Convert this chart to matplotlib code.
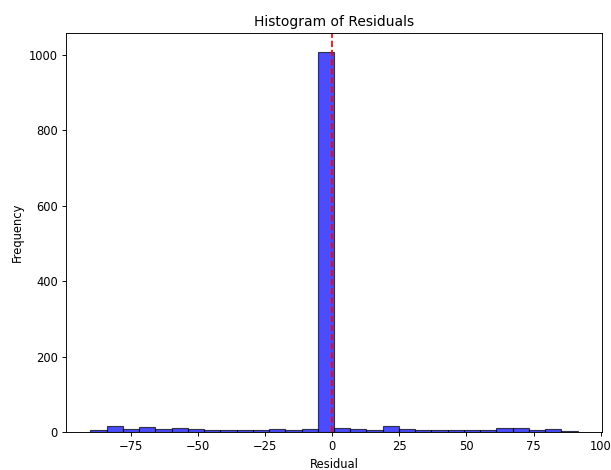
import numpy as np
import matplotlib
matplotlib.use("Agg")
import matplotlib.pyplot as plt

# Residual histogram: 30 equal-width bins spanning the residual range
residual_min = -90.1
residual_max = 91.4
bin_counts = [4, 17, 9, 13, 7, 11, 9, 6, 6, 6, 6, 9, 4, 7, 1008,
              11, 9, 4, 17, 9, 6, 6, 6, 6, 6, 11, 11, 4, 7, 3]

edges = np.linspace(residual_min, residual_max, len(bin_counts) + 1)
centers = (edges[:-1] + edges[1:]) / 2

scale = 0.83
plt.rcParams.update({
    "font.size": 10 * scale,
    "axes.titlesize": 12 * scale,
    "axes.labelsize": 10 * scale,
    "xtick.labelsize": 10 * scale,
    "ytick.labelsize": 10 * scale,
    "axes.linewidth": 0.8 * scale,
    "xtick.major.width": 0.8 * scale,
    "ytick.major.width": 0.8 * scale,
    "xtick.major.size": 3.5 * scale,
    "ytick.major.size": 3.5 * scale,
    "xtick.major.pad": 3.5 * scale,
    "ytick.major.pad": 3.5 * scale,
    "axes.titlepad": 6 * scale,
    "axes.labelpad": 4 * scale,
})

W, H = 611, 470
fig = plt.figure(figsize=(W / 100, H / 100), dpi=100)
ax = fig.add_axes([66 / W, (H - 432) / H, (602 - 66) / W, (432 - 33) / H])
ax.hist(centers, bins=edges, weights=bin_counts, color="blue", alpha=0.7,
        edgecolor="black", linewidth=1.0 * scale)
ax.axvline(0, color="red", linestyle="--", linewidth=1.5 * scale)
ax.set_title("Histogram of Residuals")
ax.set_xlabel("Residual")
ax.set_ylabel("Frequency")
fig.savefig("out.png", dpi=100)
